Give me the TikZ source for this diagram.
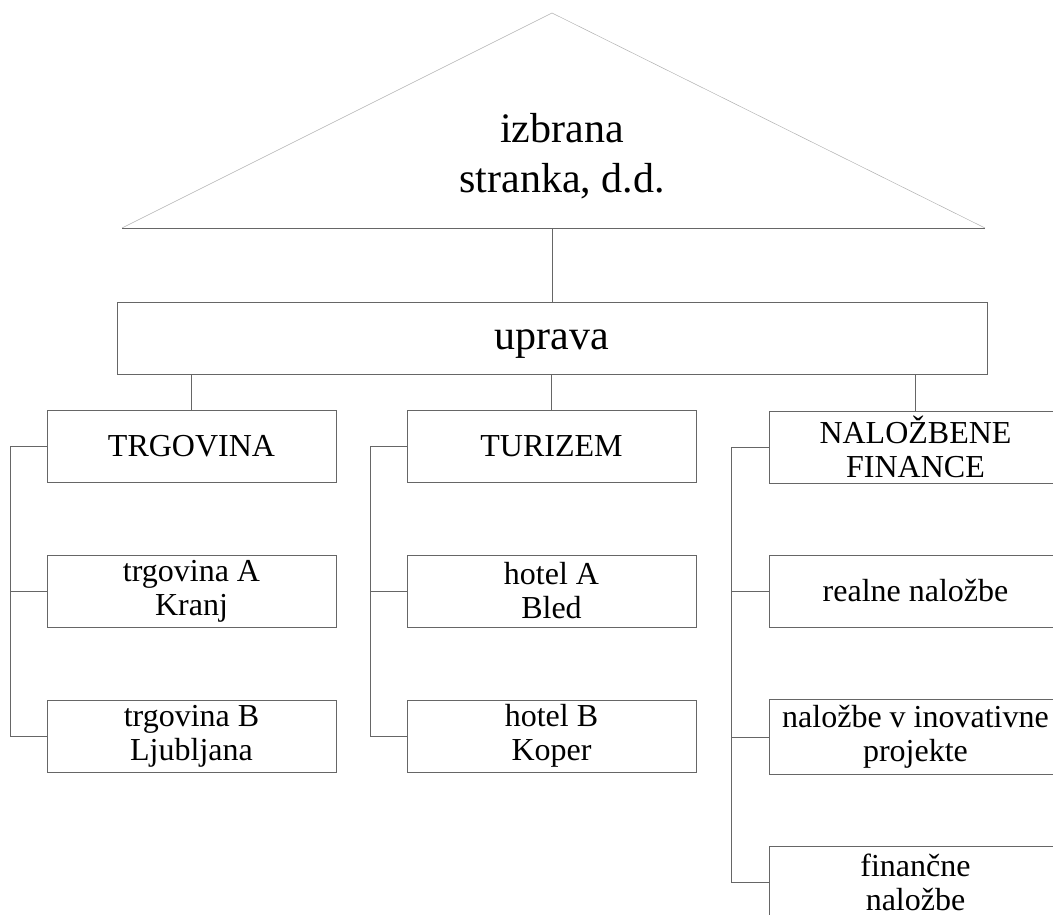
\documentclass[tikz,border=0pt]{standalone}
\usepackage{fontspec}
\setmainfont{Liberation Serif}
\begin{document}
\begin{tikzpicture}[x=1pt,y=-1pt,
  line/.style={draw=black!60,line width=0.7pt},
  faint/.style={draw=black!30,line width=0.5pt},
  box/.style={line,inner sep=0pt,align=center,text=black},
  big/.style={font=\fontsize{42}{50}\selectfont},
  small/.style={font=\fontsize{32}{34}\selectfont},
  lvl/.style={box,small,minimum width=289,minimum height=72},
  bigbox/.style={box,big,minimum width=870,minimum height=72,text height=22pt,text depth=0pt}]
\useasboundingbox (0,0) rectangle (1053,915);
\clip (0,0) rectangle (1053,915);
% triangle
\coordinate (apex) at (552,13);
\coordinate (bl) at (122,228);
\coordinate (br) at (985,228);
\coordinate (bm) at (552,228);
\draw[faint] (bl) -- (apex) -- (br);
\draw[line] (bl) -- (br);
\node[big,align=center,inner sep=0pt] (company) at (562,156) {izbrana\\stranka, d.d.};
% uprava
\node[bigbox] (uprava) at (552,338) {uprava};
\draw[line] (bm) -- (uprava.north);
% column 1
\node[lvl] (trg) at (191.5,446) {TRGOVINA};
\node[lvl] (trgA) at (191.5,591) {trgovina A\\Kranj};
\node[lvl] (trgB) at (191.5,736) {trgovina B\\Ljubljana};
% column 2
\node[lvl] (tur) at (551.5,446) {TURIZEM};
\node[lvl] (hotA) at (551.5,591) {hotel A\\Bled};
\node[lvl] (hotB) at (551.5,736) {hotel B\\Koper};
% column 3
\node[lvl,minimum width=293] (nal) at (915.5,447) {NALOŽBENE\\FINANCE};
\node[lvl,minimum width=293] (real) at (915.5,591) {realne naložbe};
\node[lvl,minimum width=293,minimum height=75] (inov) at (915.5,737) {naložbe v inovativne\\projekte};
\node[lvl,minimum width=293] (fin) at (915.5,882) {finančne\\naložbe};
% connectors from uprava
\draw[line] (trg.north) -- (trg.north |- uprava.south);
\draw[line] (tur.north) -- (tur.north |- uprava.south);
\draw[line] (nal.north) -- (nal.north |- uprava.south);
% buses
\draw[line] (trg.west) -- ++(-36,0) |- (trgB.west);
\draw[line] (trgA.west) -- ++(-36,0);
\draw[line] (tur.west) -- ++(-36,0) |- (hotB.west);
\draw[line] (hotA.west) -- ++(-36,0);
\draw[line] (nal.west) -- ++(-37,0) |- (fin.west);
\draw[line] (real.west) -- ++(-37,0);
\draw[line] (inov.west) -- ++(-37,0);
\end{tikzpicture}
\end{document}
